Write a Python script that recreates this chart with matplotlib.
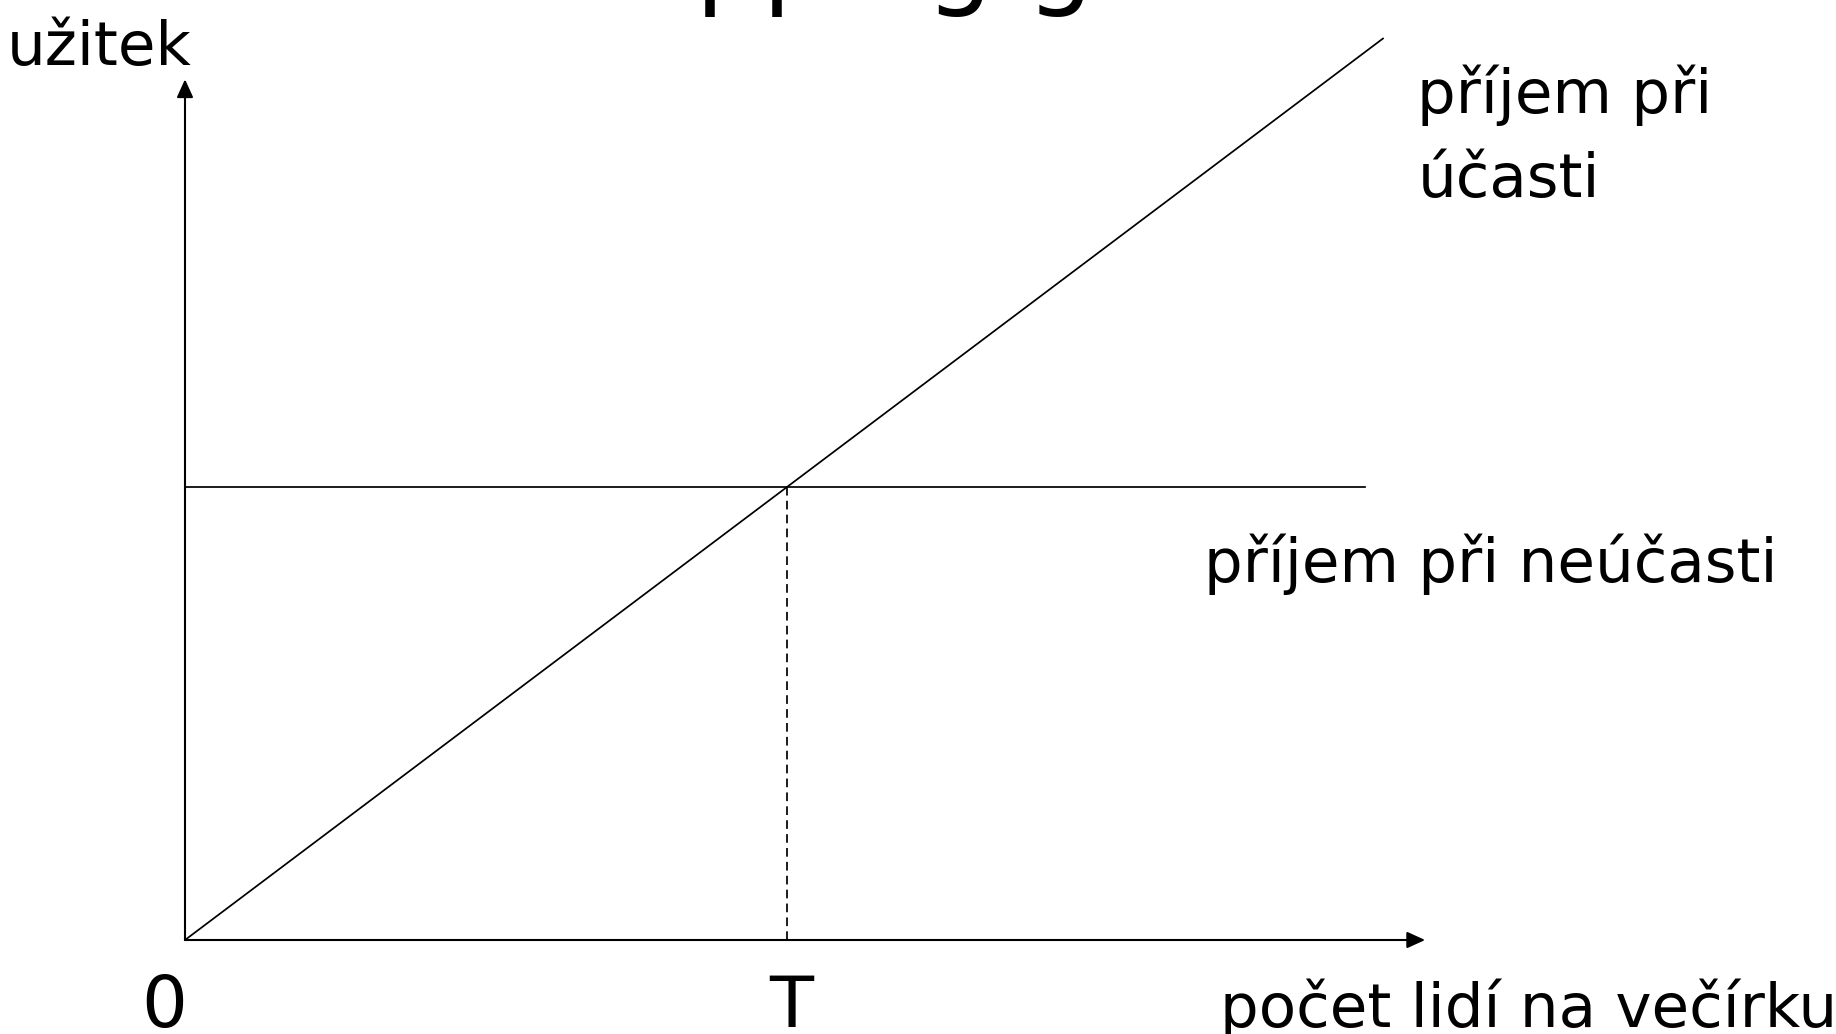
import matplotlib
matplotlib.use('Agg')
import matplotlib.pyplot as plt

plt.rcParams['font.family'] = ['DejaVu Sans']

# abstract units: T = 1 on x, non-participation payoff = 1 on y
T = 1.0
participate_x = [0, 1.99]
participate_y = [0, 1.99]
stay_home_x = [0, 1.96]
stay_home_y = [1.0, 1.0]
x_axis_end = 2.06
y_axis_end = 1.90

title = "Tipping game"
y_label = "užitek"
x_label = "počet lidí na večírku"
line1_label = ["příjem při", "účasti"]
line2_label = "příjem při neúčasti"
tick_labels = ["0", "T"]
tick_pos = [0, T]

W, H = 1836, 1034
fig = plt.figure(figsize=(W / 100, H / 100), dpi=100)
ax = fig.add_axes([0, 0, 1, 1])
ax.set_xlim(-185 / 602, (W - 185) / 602)
ax.set_ylim(-(H - 940) / 453, 940 / 453)
ax.axis('off')

fs = 44

# axes with arrows
arrow = dict(arrowstyle='-|>,head_length=0.55,head_width=0.25', mutation_scale=20,
             color='black', lw=1.5, shrinkA=0, shrinkB=0)
ax.annotate('', xy=(x_axis_end, 0), xytext=(0, 0), arrowprops=arrow)
ax.annotate('', xy=(0, y_axis_end), xytext=(0, 0), arrowprops=arrow)

ax.plot(participate_x, participate_y, color='black', lw=1.25)
ax.plot(stay_home_x, stay_home_y, color='black', lw=1.25)
ax.plot([T, T], [0, stay_home_y[0]], color='black', lw=1.25, dashes=(5, 3))

# labels
ax.text(-0.296, 1.932, y_label, fontsize=fs, ha='left', va='baseline')
ax.text(1.719, -0.192, x_label, fontsize=fs, ha='left', va='baseline')
for lab, xp in zip(tick_labels, tick_pos):
    ax.text(xp - 0.035 if lab == "0" else xp + 0.007, -0.192, lab,
            fontsize=52, ha='center', va='baseline')
ax.text(2.047, 1.826, line1_label[0], fontsize=fs, ha='left', va='baseline')
ax.text(2.047, 1.640, line1_label[1], fontsize=fs, ha='left', va='baseline')
ax.text(1.693, 0.790, line2_label, fontsize=fs, ha='left', va='baseline')

# title sits mostly above the canvas, only descenders show
ax.text(0.698, 2.086, title, fontsize=76, ha='left', va='baseline', clip_on=False)

fig.savefig('out.png', dpi=100)
